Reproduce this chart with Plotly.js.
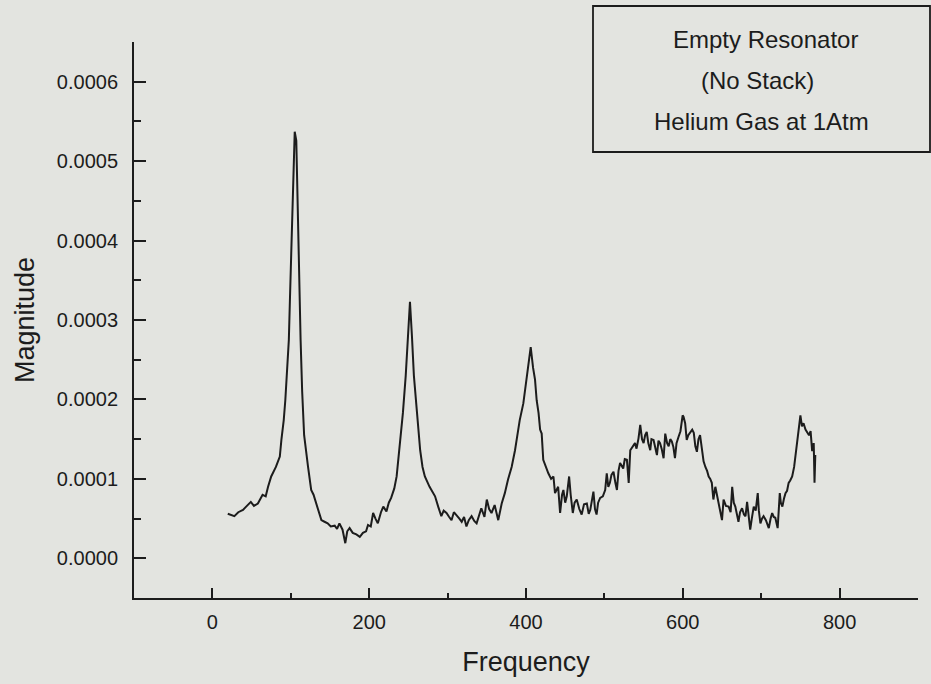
<!DOCTYPE html>
<html>
<head>
<meta charset="utf-8">
<script src="https://cdn.plot.ly/plotly-3.0.1.min.js"></script>
<style>
  html, body { margin: 0; padding: 0; background: #e3e4e0; }
  #chart { width: 931px; height: 684px; }
</style>
</head>
<body>
<div id="chart"></div>
<script>
// Frequency (Hz) sampled along the trace
const frequency = [
  19.6, 24, 28, 33, 39, 44, 49, 53, 58, 64, 68, 71, 75, 81, 86, 88, 91, 93, 95, 97.5,
  99, 101, 103.5, 105, 107, 109.5, 111, 112.5, 114.5, 117, 122, 126, 129, 132.5, 136, 139,
  143, 147, 151, 156, 159, 162, 166, 169.5, 172, 175, 179, 183.6, 188, 192, 196, 198.5,
  202, 205, 208, 211, 215, 218, 222, 225, 228, 232, 235, 239, 243, 246.6, 249, 252,
  254.5, 257, 261, 265, 268, 271, 277, 281, 284, 288, 292, 295, 298.6, 302, 305, 308,
  311, 315, 318, 321, 324, 327, 330.6, 334, 337, 340, 343, 347, 350, 353, 356, 360,
  364.6, 369, 373, 377, 381.7, 386, 389, 392, 396.6, 401, 403.5, 406, 409, 411.5, 413.6,
  416, 418, 420, 422, 425, 428.5, 432, 435, 437, 441, 443.5, 446, 447.7, 450, 452, 455,
  457, 459.7, 462, 464.7, 468, 471, 474, 477.6, 480, 482, 486, 488, 490, 492, 494.6,
  498, 501, 503, 505, 507, 509, 511.6, 514, 516, 518, 520, 524, 526, 528.7, 531, 533,
  536, 539, 541, 543.5, 545.7, 548, 550, 552, 554, 556, 558.5, 560, 562.7, 565, 567,
  569, 571, 573, 575.5, 577.6, 580, 582, 584, 586, 588, 590, 592, 594.6, 597, 599.8,
  601, 603, 605, 607, 609.6, 612, 614, 616, 618, 620, 622, 624.5, 626.5, 628.8, 631,
  633, 635, 637, 639, 641.5, 643.5, 645.8, 648, 650, 652, 655, 658.5, 661, 663, 665,
  667, 669, 671, 673, 675.6, 678, 680, 682, 684, 686, 688, 690.5, 693, 695.6, 697,
  699, 701, 703, 706, 709.7, 712, 714, 716, 718, 721, 723.7, 725, 727, 729, 731,
  733, 735, 737, 739.5, 742, 744, 746.7, 748, 750, 752, 754, 756.5, 759, 761, 763,
  765, 767, 768, 769
];

// Magnitude in units of 1e-4
const magnitudeE4 = [
  0.56, 0.54, 0.53, 0.58, 0.61, 0.66, 0.71, 0.66, 0.69, 0.80, 0.78, 0.90, 1.03, 1.15, 1.28, 1.49, 1.74, 1.99, 2.3, 2.75,
  3.3, 4.0, 4.85, 5.37, 5.26, 4.0, 3.3, 2.75, 2.1, 1.55, 1.15, 0.86, 0.80, 0.69, 0.58, 0.48,
  0.46, 0.44, 0.40, 0.41, 0.37, 0.44, 0.36, 0.19, 0.34, 0.38, 0.32, 0.30, 0.27, 0.32, 0.34, 0.42,
  0.40, 0.57, 0.50, 0.44, 0.58, 0.65, 0.59, 0.70, 0.76, 0.88, 1.03, 1.41, 1.83, 2.3, 2.8, 3.23,
  2.8, 2.3, 1.83, 1.36, 1.15, 1.03, 0.90, 0.84, 0.78, 0.65, 0.53, 0.60, 0.57, 0.52, 0.48, 0.58,
  0.55, 0.50, 0.46, 0.52, 0.40, 0.48, 0.53, 0.47, 0.44, 0.55, 0.63, 0.52, 0.74, 0.62, 0.57, 0.67,
  0.48, 0.69, 0.82, 0.99, 1.15, 1.36, 1.55, 1.74, 1.95, 2.3, 2.5, 2.66, 2.4, 2.25, 1.99,
  1.83, 1.62, 1.57, 1.24, 1.15, 1.07, 1.00, 1.03, 0.82, 0.90, 0.57, 0.80, 0.86, 0.70, 0.78, 1.03,
  0.80, 0.57, 0.70, 0.74, 0.62, 0.55, 0.68, 0.69, 0.56, 0.61, 0.84, 0.62, 0.55, 0.70, 0.76,
  0.78, 0.86, 1.07, 0.90, 0.95, 1.05, 1.09, 0.95, 0.86, 1.10, 1.20, 1.13, 1.25, 1.24, 0.95, 1.36,
  1.40, 1.45, 1.38, 1.51, 1.68, 1.50, 1.45, 1.55, 1.59, 1.45, 1.36, 1.50, 1.49, 1.40, 1.30,
  1.48, 1.45, 1.38, 1.26, 1.57, 1.45, 1.41, 1.50, 1.47, 1.40, 1.26, 1.45, 1.53, 1.60, 1.80,
  1.78, 1.70, 1.49, 1.55, 1.59, 1.62, 1.58, 1.41, 1.34, 1.50, 1.55, 1.32, 1.22, 1.15, 1.10,
  1.03, 1.00, 0.95, 0.74, 0.90, 0.80, 0.69, 0.62, 0.48, 0.74, 0.66, 0.65, 0.58, 0.90, 0.70,
  0.65, 0.55, 0.46, 0.58, 0.63, 0.55, 0.53, 0.71, 0.55, 0.36, 0.50, 0.65, 0.60, 0.82, 0.60,
  0.44, 0.50, 0.53, 0.48, 0.38, 0.50, 0.57, 0.52, 0.51, 0.38, 0.82, 0.70, 0.65, 0.75, 0.82,
  0.85, 0.95, 0.98, 1.03, 1.15, 1.32, 1.57, 1.65, 1.80, 1.66, 1.70, 1.62, 1.58, 1.55, 1.60,
  1.35, 1.45, 0.95, 1.30
];

const magnitude = magnitudeE4.map(v => v * 1e-4);

const xTickVals = [0, 200, 400, 600, 800];
const xTickText = ['0', '200', '400', '600', '800'];
const yTickVals = [0, 0.0001, 0.0002, 0.0003, 0.0004, 0.0005, 0.0006];
const yTickText = ['0.0000', '0.0001', '0.0002', '0.0003', '0.0004', '0.0005', '0.0006'];
const noteLines = ['Empty Resonator', '(No Stack)', 'Helium Gas at 1Atm'];

const bg = '#e3e4e0';
const ink = '#1c1c1c';
const font = 'Liberation Sans, Arial, Helvetica, sans-serif';

const trace = {
  x: frequency,
  y: magnitude,
  type: 'scatter',
  mode: 'lines',
  line: { color: ink, width: 2 },
  hoverinfo: 'skip'
};

const layout = {
  width: 931,
  height: 684,
  paper_bgcolor: bg,
  plot_bgcolor: bg,
  showlegend: false,
  margin: { l: 134, r: 13, t: 42, b: 86 },
  font: { family: font, color: ink, size: 18 },
  xaxis: {
    range: [-100, 900],
    tickvals: xTickVals,
    ticktext: xTickText,
    ticks: 'inside',
    ticklen: 10,
    tickwidth: 2,
    tickcolor: ink,
    minor: { dtick: 100, tick0: 0, ticks: 'inside', ticklen: 5, tickwidth: 2, tickcolor: ink },
    showline: true,
    linecolor: ink,
    linewidth: 2,
    showgrid: false,
    zeroline: false,
    tickfont: { size: 20, family: font, color: ink },
    ticklabelstandoff: 5,
    title: { text: 'Frequency', font: { size: 27, family: font, color: ink }, standoff: 20 }
  },
  yaxis: {
    range: [-0.00005, 0.00065],
    tickvals: yTickVals,
    ticktext: yTickText,
    ticks: 'inside',
    ticklen: 12,
    tickwidth: 2,
    tickcolor: ink,
    minor: { dtick: 0.00005, tick0: 0, ticks: 'inside', ticklen: 7, tickwidth: 2, tickcolor: ink },
    showline: true,
    linecolor: ink,
    linewidth: 2,
    showgrid: false,
    zeroline: false,
    tickfont: { size: 20, family: font, color: ink },
    ticklabelstandoff: 10,
    title: { text: 'Magnitude', font: { size: 27, family: font, color: ink }, standoff: 14 }
  },
  shapes: [
    {
      type: 'rect', xref: 'paper', yref: 'paper',
      x0: (593 - 134) / 784, x1: (930 - 134) / 784,
      y0: (598 - 152) / 556, y1: (598 - 6) / 556,
      line: { color: ink, width: 1.8 },
      fillcolor: 'rgba(0,0,0,0)'
    }
  ],
  annotations: [
    { text: noteLines[0], xref: 'paper', yref: 'paper', x: (765 - 134) / 784, y: (598 - 39) / 556, showarrow: false, xanchor: 'center', yanchor: 'middle', font: { size: 24, family: font, color: ink } },
    { text: noteLines[1], xref: 'paper', yref: 'paper', x: (757 - 134) / 784, y: (598 - 80) / 556, showarrow: false, xanchor: 'center', yanchor: 'middle', font: { size: 24, family: font, color: ink } },
    { text: noteLines[2], xref: 'paper', yref: 'paper', x: (761 - 134) / 784, y: (598 - 121) / 556, showarrow: false, xanchor: 'center', yanchor: 'middle', font: { size: 24, family: font, color: ink } }
  ]
};

Plotly.newPlot('chart', [trace], layout, { displayModeBar: false, staticPlot: true });
</script>
</body>
</html>
